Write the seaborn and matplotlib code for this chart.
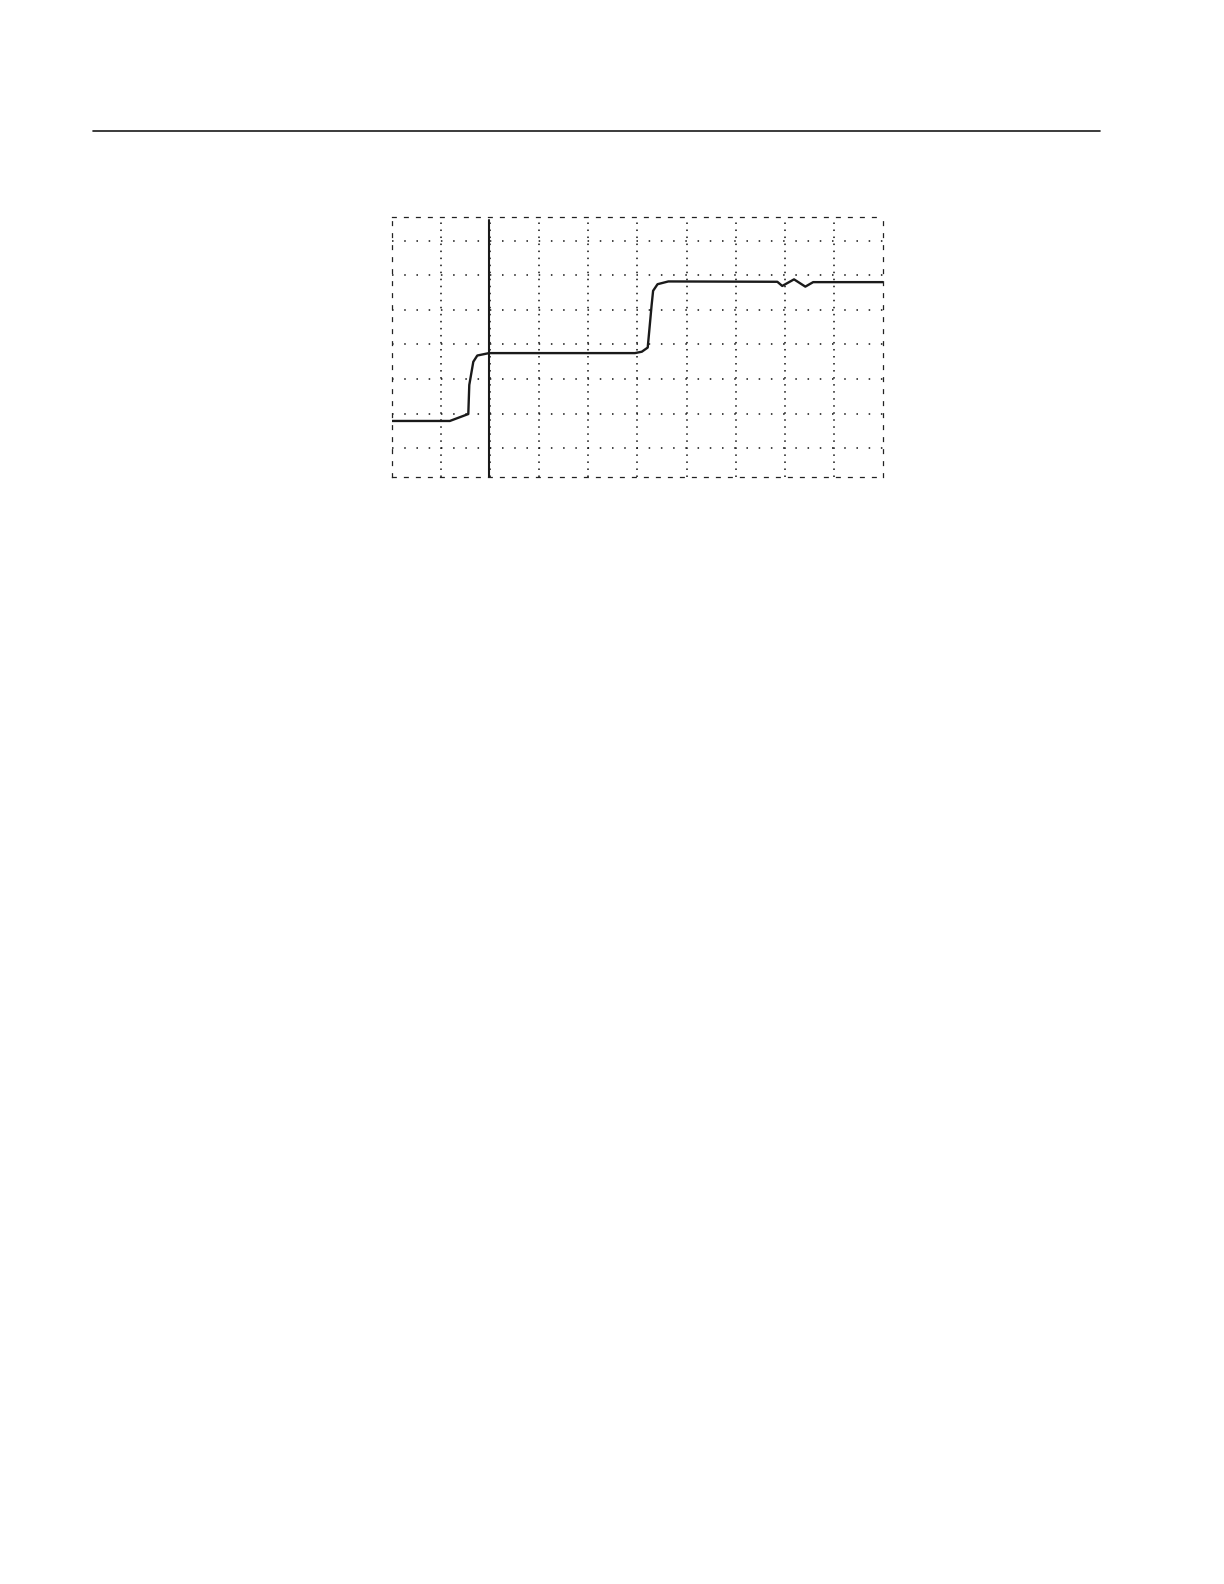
import numpy as np
import pandas as pd
import matplotlib
matplotlib.use("Agg")
import matplotlib.pyplot as plt
from matplotlib.lines import Line2D
import seaborn as sns

# waveform, in grid divisions
trace_x = [0.00, 1.18, 1.556, 1.576, 1.658, 1.739, 1.978, 4.95, 5.09, 5.21, 5.24,
           5.29, 5.32, 5.41, 5.63, 7.85, 7.95, 8.19, 8.42, 8.58, 10.0]
trace_y = [-2.21, -2.21, -2.01, -1.17, -0.50, -0.32, -0.25, -0.25, -0.21, -0.09, 0.37,
           1.14, 1.55, 1.74, 1.82, 1.81, 1.69, 1.88, 1.67, 1.80, 1.80]

cursor_x = 1.98
cursor_span = [-3.82, 3.60]

x_grid = [1, 2, 3, 4, 5, 6, 7, 8, 9]
y_grid = [-3, -2, -1, 0, 1, 2, 3]

sns.set_theme(style="white")
plt.rcParams['font.family'] = ['DejaVu Sans']

fig = plt.figure(figsize=(12.24, 15.84), dpi=100)
fig.patch.set_facecolor("white")

# rule across the top of the page
fig.add_artist(Line2D([93 / 1224, 1100 / 1224], [1 - 131 / 1584, 1 - 131 / 1584],
                      color="#1a1a1a", lw=1.2))

ax = fig.add_axes([391.9 / 1224, 1 - 476.7 / 1584, 491 / 1224, 260 / 1584])
ax.set_xlim(0, 10)
ax.set_ylim(-3.82, 3.69)

# dotted grid: fine dots on verticals, sparser on horizontals
for gx in x_grid:
    ax.axvline(gx, color="#111111", lw=1.1, ls=(0, (1, 3.6)), zorder=1)
for gy in y_grid:
    ax.axhline(gy, color="#111111", lw=1.1, ls=(0, (1, 7.0)), zorder=1)

df = pd.DataFrame({"t": trace_x, "v": trace_y})
sns.lineplot(data=df, x="t", y="v", ax=ax, color="#1a1a1a", lw=1.7,
             sort=False, estimator=None, zorder=3)

ax.plot([cursor_x, cursor_x], cursor_span, color="#1a1a1a", lw=1.5, zorder=3)

for side in ax.spines.values():
    side.set_visible(True)
    side.set_color("#222222")
    side.set_linewidth(0.9)
    side.set_linestyle((0, (3, 6.6)))

ax.set_xticks([])
ax.set_yticks([])
ax.set_xlabel("")
ax.set_ylabel("")
ax.set_facecolor("white")

fig.savefig("out.png", dpi=100, facecolor="white")
